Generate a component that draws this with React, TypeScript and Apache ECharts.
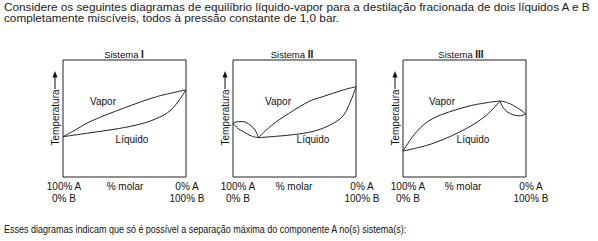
import React, { useEffect, useRef } from "react";
import * as echarts from "echarts";

// ---- Data (x = % molar de B, y = temperatura relativa) ----
const panelTitles = ["I", "II", "III"];
const intro1 =
  "Considere os seguintes diagramas de equilíbrio líquido-vapor para a destilação fracionada de dois líquidos A e B";
const intro2 = "completamente miscíveis, todos à pressão constante de 1,0 bar.";
const question = "Esses diagramas indicam que só é possível a separação máxima do componente A no(s) sistema(s):";
const xLeftLabels = ["100% A", "0% B"];
const xRightLabels = ["0% A", "100% B"];
const xMidLabel = "% molar";
const yLabel = "Temperatura";

const vaporI = [[0, 34.4], [8, 39], [22, 47.3], [49, 58.7], [76, 68.6], [100, 74.4]];
const liquidI = [[0, 34.4], [20, 37.5], [40, 40.5], [60, 44.5], [75, 49.5], [88, 57.5], [100, 74.4]];

const lensUpperII = [[0, 45.9], [4.3, 47.3], [8.4, 47.3], [13.8, 44.4], [17.9, 40.2], [20.6, 33.6]];
const lensLowerII = [[0, 45.9], [4, 41.5], [8.4, 38.7], [15, 35], [20.6, 33.6]];
const vaporII = [[20.6, 33.6], [31.5, 44.2], [45, 54.1], [62.6, 65], [72.2, 68.4], [89.7, 74.4], [100, 77.2]];
const liquidII = [[20.6, 33.6], [35, 34.8], [50, 36.3], [65, 39], [78, 44], [90, 53], [100, 77.2]];

const vaporIII = [[0, 22.2], [11.1, 38.7], [24.6, 50.2], [51.8, 60.1], [68, 63.5], [78.9, 65]];
const liquidIII = [[0, 22.2], [24.6, 28.8], [51.8, 41.6], [68, 53], [78.9, 65]];
const lensUpperIII = [[78.9, 65], [85, 63.5], [90, 61], [96, 57], [100, 53.8]];
const lensLowerIII = [[78.9, 65], [81, 60], [85, 55.5], [90, 53], [95, 52.3], [100, 53.8]];

const panelCurves = [
  [vaporI, liquidI],
  [lensUpperII, lensLowerII, vaporII, liquidII],
  [vaporIII, liquidIII, lensUpperIII, lensLowerIII],
];

// ---- Layout ----
const gridLefts = [63, 233, 403];
const gridTop = 60;
const gridW = 123;
const gridH = 117;
const titleX = [124, 292, 461];
const leftLabX = [64, 238, 408];
const midLabX = [125, 294, 463];
const rightLabX = [187, 362, 531];
const tempX = [55, 225, 395];
const vaporPos = [[103, 101.5], [278, 101.5], [442, 101]];
const liquidPos = [[132, 139.3], [313, 139.3], [473, 139]];

const FONT = "Liberation Sans, Arial, sans-serif";
const LINE = "#222";

export default function App() {
  const ref = useRef<HTMLDivElement>(null);
  useEffect(() => {
    if (!ref.current) return;
    const chart = echarts.init(ref.current, undefined, { renderer: "svg" });
    const grids = gridLefts.map((l) => ({
      left: l,
      top: gridTop,
      width: gridW,
      height: gridH,
      show: true,
      borderColor: LINE,
      borderWidth: 1,
      backgroundColor: "transparent",
    }));
    const axisCommon = {
      type: "value",
      min: 0,
      max: 100,
      axisLine: { show: false },
      axisTick: { show: false },
      axisLabel: { show: false },
      splitLine: { show: false },
    };
    const series: any[] = [];
    panelCurves.forEach((curves, i) => {
      curves.forEach((d) => {
        series.push({
          type: "line",
          xAxisIndex: i,
          yAxisIndex: i,
          data: d,
          smooth: 0.35,
          showSymbol: false,
          symbol: "none",
          lineStyle: { color: LINE, width: 1 },
          silent: true,
        });
      });
    });
    const txt = (x: number, y: number, text: string, size = 10, extra: any = {}, sx = 1) => ({
      type: "text",
      x,
      y,
      scaleX: sx,
      silent: true,
      style: {
        text,
        fill: "#111",
        font: `${size}px ${FONT}`,
        align: "center",
        verticalAlign: "middle",
        ...extra,
      },
    });
    const graphics: any[] = [
      txt(4, 7.5, intro1, 10, { align: "left", fill: "#222" }, 1.175),
      txt(4, 18.5, intro2, 10, { align: "left", fill: "#222" }, 1.175),
      txt(4, 229, question, 10, { align: "left" }, 0.9),
    ];
    for (let i = 0; i < 3; i++) {
      graphics.push({
        type: "text",
        x: titleX[i],
        y: 54,
        silent: true,
        style: {
          text: `{n|Sistema }{b|${panelTitles[i]}}`,
          align: "center",
          verticalAlign: "middle",
          rich: {
            n: { font: `9.5px ${FONT}`, fill: "#111" },
            b: { font: `bold 10px ${FONT}`, fill: "#111" },
          },
        },
      });
      graphics.push(txt(leftLabX[i], 186, xLeftLabels[0]));
      graphics.push(txt(leftLabX[i], 198, xLeftLabels[1]));
      graphics.push(txt(midLabX[i], 186, xMidLabel));
      graphics.push(txt(rightLabX[i], 186, xRightLabels[0]));
      graphics.push(txt(rightLabX[i], 198, xRightLabels[1]));
      graphics.push(txt(vaporPos[i][0], vaporPos[i][1], "Vapor"));
      graphics.push(txt(liquidPos[i][0], liquidPos[i][1], "Líquido"));
      graphics.push({
        type: "text",
        x: tempX[i],
        y: 117.5,
        rotation: Math.PI / 2,
        silent: true,
        style: {
          text: yLabel,
          fill: "#111",
          font: `10px ${FONT}`,
          align: "center",
          verticalAlign: "middle",
        },
      });
      graphics.push({
        type: "line",
        silent: true,
        shape: { x1: tempX[i], y1: 89, x2: tempX[i], y2: 76 },
        style: { stroke: "#111", lineWidth: 1 },
      });
      graphics.push({
        type: "polygon",
        silent: true,
        shape: {
          points: [
            [tempX[i], 71],
            [tempX[i] - 2.5, 77.5],
            [tempX[i] + 2.5, 77.5],
          ],
        },
        style: { fill: "#111" },
      });
    }
    chart.setOption({
      animation: false,
      backgroundColor: "#fff",
      grid: grids,
      xAxis: gridLefts.map((_, i) => ({ ...axisCommon, gridIndex: i })),
      yAxis: gridLefts.map((_, i) => ({ ...axisCommon, gridIndex: i })),
      series,
      graphic: graphics,
    });
    return () => chart.dispose();
  }, []);
  return (
    <div
      ref={ref}
      style={{ position: "fixed", left: 0, top: 0, width: 598, height: 241 }}
    />
  );
}
